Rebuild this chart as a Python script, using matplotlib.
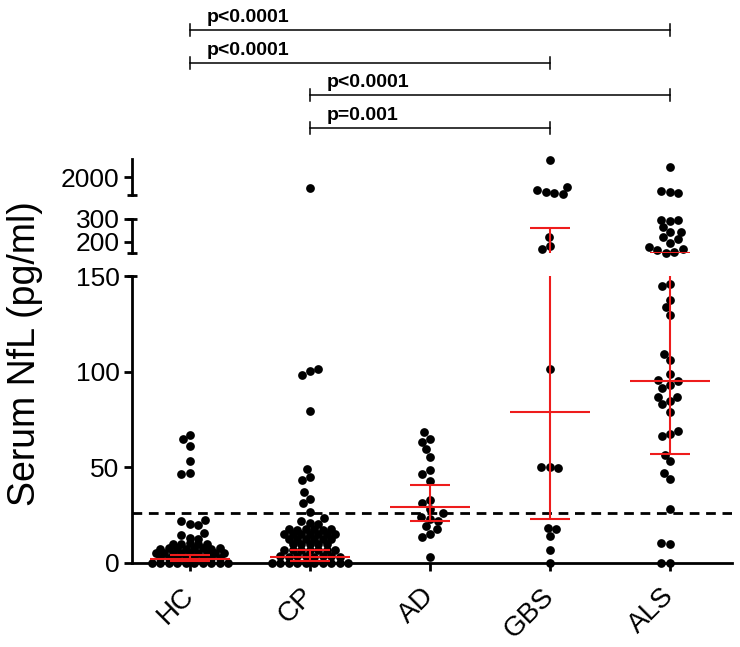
import numpy as np
import matplotlib
matplotlib.use("Agg")
import matplotlib.pyplot as plt
from matplotlib.transforms import blended_transform_factory

plt.rcParams['font.family'] = ['Liberation Sans', 'DejaVu Sans']

# -----------------------------
# Data (serum NfL, pg/ml)
# -----------------------------
groups = ["HC", "CP", "AD", "GBS", "ALS"]

hc = [67.1, 64.9, 61.3, 53.5, 46.8, 46.5, 22.4, 21.7, 20.6, 19.9, 15.9, 14.7,
      13.0, 12.6, 10.1, 10.0, 10.2, 10.1, 10.0,
      7.5, 7.6, 7.7, 7.5, 7.6, 7.7, 7.5, 7.6,
      5.0, 5.1, 5.2, 5.0, 5.1, 5.2, 5.0, 5.1, 5.2,
      2.5, 2.6, 2.7, 2.5, 2.6, 2.7, 2.5, 2.6,
      0.1, 0.0, 0.2, 0.1, 0.0, 0.2, 0.1, 0.0, 0.2, 0.1]
cp = [1389, 101.2, 100.2, 98.1, 79.7, 48.9, 44.7, 43.5, 36.9, 33.7, 31.3, 26.9,
      23.4, 22.0, 21.0, 20.2,
      17.6, 17.5, 17.7, 17.6, 17.5, 17.7,
      15.0, 14.9, 15.1, 15.0, 14.9, 15.1, 15.0,
      12.5, 12.4, 12.6, 12.5, 12.4, 12.6,
      10.0, 9.9, 10.1, 10.0, 9.9,
      6.8, 6.7, 6.9, 6.8, 6.7, 6.9, 6.8,
      3.4, 3.3, 3.5, 3.4, 3.3, 3.5, 3.4, 3.3,
      0.1, 0.0, 0.2, 0.1, 0.0, 0.2, 0.1, 0.0, 0.2, 0.1]
ad = [68.3, 64.9, 63.5, 59.6, 55.6, 48.6, 46.5, 43.0, 33.0, 31.6, 28.0, 25.9,
      23.8, 22.9, 22.0, 19.4, 17.7, 15.4, 13.6, 3.3]
gbs = [2950, 1461, 1278, 1167, 1128, 1039, 219, 182, 169,
       101.4, 50.0, 50.2, 49.8, 18.5, 17.7, 14.2, 6.6, 0.0]
als = [2539, 1239, 1183, 1094,
       295, 291, 295, 266, 244, 244, 219, 210, 195, 178, 163, 151, 156, 166,
       145.8, 144.7, 137.6, 133.7, 129.7, 109.4, 106.3, 98.6, 95.1, 95.4, 93.2,
       91.6, 86.7, 84.6, 86.7, 82.9, 78.7, 67.3, 66.4, 68.9, 56.6, 53.1, 47.2,
       44.0, 28.2, 10.1, 10.3, 0.0, 0.2]
values = [hc, cp, ad, gbs, als]

# median and interquartile range as drawn (red)
medians = [2.0, 3.1, 29.5, 78.7, 94.9]
q1 = [0.8, 1.2, 21.7, 23.0, 57.0]
q3 = [4.2, 7.0, 40.7, 261.0, 151.3]

cutoff = 26
comparisons = [("HC", "ALS"), ("HC", "GBS"), ("CP", "ALS"), ("CP", "GBS")]
p_labels = ["p<0.0001", "p<0.0001", "p<0.0001", "p=0.001"]

# -----------------------------
# Figure with broken y axis (3 segments)
# -----------------------------
W, H = 740, 647
fig = plt.figure(figsize=(W / 100, H / 100), dpi=100)
left, width = 132 / W, 600 / W
ax0 = fig.add_axes([left, (H - 563) / H, width, 287 / H])   # 0-150
ax1 = fig.add_axes([left, (H - 253) / H, width, 34 / H])    # 150-300
ax2 = fig.add_axes([left, (H - 195) / H, width, 36 / H])    # 1000-3000
segs = [(ax0, 0, 150), (ax1, 150, 300), (ax2, 1000, 3000)]

xlim = (-0.483, 4.517)
for ax, lo, hi in segs:
    ax.set_xlim(*xlim)
    ax.set_ylim(lo, hi)
    for s in ["top", "right", "bottom"]:
        ax.spines[s].set_visible(False)
    ax.spines["left"].set_linewidth(2)
    ax.tick_params(axis="y", direction="out", length=6, width=2, labelsize=19, pad=3)
    ax.patch.set_alpha(0)
ax0.spines["bottom"].set_visible(True)
ax0.spines["bottom"].set_linewidth(2)
ax0.set_yticks([0, 50, 100, 150])
ax1.set_yticks([200, 300])
ax2.set_yticks([2000])
for ax in (ax1, ax2):
    ax.set_xticks([])
ax0.set_xticks(range(len(groups)))
ax0.set_xticklabels(groups, rotation=45, ha="right", va="center",
                    rotation_mode="anchor", fontsize=20)
ax0.tick_params(axis="x", direction="out", length=6, width=2, pad=15)

# break caps on the axis ends
cap = 5 / 600
for ax, ys in [(ax0, [1]), (ax1, [0, 1]), (ax2, [0])]:
    for yy in ys:
        ax.plot([-cap, cap], [yy, yy], transform=ax.transAxes, color="k",
                lw=2, clip_on=False, solid_capstyle="butt")

# cutoff line
ax0.axhline(cutoff, color="k", lw=2, dashes=(3.5, 2.4), zorder=2)

# -----------------------------
# Scatter-dot layout (pixel space):
# rows of >=3 close values are spread evenly, the rest avoid overlaps greedily
# -----------------------------
def seg_for(v):
    if v <= 150:
        return ax0
    if v <= 300:
        return ax1
    return ax2

def dot_layout(ypix, row_h=4.6, step=8.5, d=8.5):
    order = np.argsort(ypix)
    xs = np.zeros(len(ypix))
    rows, cur = [], [order[0]]
    for i in order[1:]:
        if ypix[i] - ypix[cur[0]] < row_h:
            cur.append(i)
        else:
            rows.append(cur)
            cur = [i]
    rows.append(cur)
    placed = []
    for r in rows:
        r = sorted(r)
        if len(r) >= 3:
            for k, i in enumerate(r):
                xs[i] = (k - (len(r) - 1) / 2) * step
                placed.append((xs[i], ypix[i]))
            continue
        for i in r:
            y = ypix[i]
            near = [(px, py) for px, py in placed if abs(py - y) < d]
            cands = [0.0]
            for px, py in near:
                off = np.sqrt(d ** 2 - (py - y) ** 2)
                cands += [px + off, px - off]
            cands.sort(key=lambda c: (round(abs(c), 6), c))
            for c in cands:
                if all((c - px) ** 2 + (y - py) ** 2 >= d ** 2 - 1e-6 for px, py in near):
                    xs[i] = c
                    break
            placed.append((xs[i], y))
    return xs

px_per_unit = ax0.transData.transform((1, 0))[0] - ax0.transData.transform((0, 0))[0]
for gi, vals in enumerate(values):
    vals = np.array(vals, dtype=float)
    ypix = np.array([seg_for(v).transData.transform((0, v))[1] for v in vals])
    xoff = dot_layout(ypix) / px_per_unit
    for ax, lo, hi in segs:
        m = (vals >= lo) & (vals <= hi)
        ax.plot(gi + xoff[m], vals[m], "o", color="k", ms=6.3, mew=0,
                clip_on=False, zorder=3)

# median + IQR in red
red = "#ee1c1c"
for ax, lo, hi in segs:
    for gi in range(len(groups)):
        ax.vlines(gi, q1[gi], q3[gi], color=red, lw=1.5, zorder=4)
        ax.hlines(medians[gi], gi - 0.333, gi + 0.333, color=red, lw=1.5, zorder=4)
        ax.hlines([q1[gi], q3[gi]], gi - 0.167, gi + 0.167, color=red, lw=1.5, zorder=4)

fig.text(25 / W, 1 - 354 / H, "Serum NfL (pg/ml)", rotation=90, fontsize=27,
         ha="center", va="center")

# -----------------------------
# Significance brackets
# -----------------------------
trans = blended_transform_factory(ax0.transData, fig.transFigure)
bracket_y = [30, 63, 95, 128]
for (a, b), lab, ypx in zip(comparisons, p_labels, bracket_y):
    i, j = groups.index(a), groups.index(b)
    y = 1 - ypx / H
    t = 6 / H
    ax0.plot([i, j], [y, y], transform=trans, color="k", lw=1.1, clip_on=False)
    ax0.plot([i, i], [y - t, y + t], transform=trans, color="k", lw=1.1, clip_on=False)
    ax0.plot([j, j], [y - t, y + t], transform=trans, color="k", lw=1.1, clip_on=False)
    ax0.text(i + 0.14, y + 4 / H, lab, transform=trans, fontsize=14,
             fontweight="bold", ha="left", va="bottom")

fig.savefig("out.png", dpi=100)
